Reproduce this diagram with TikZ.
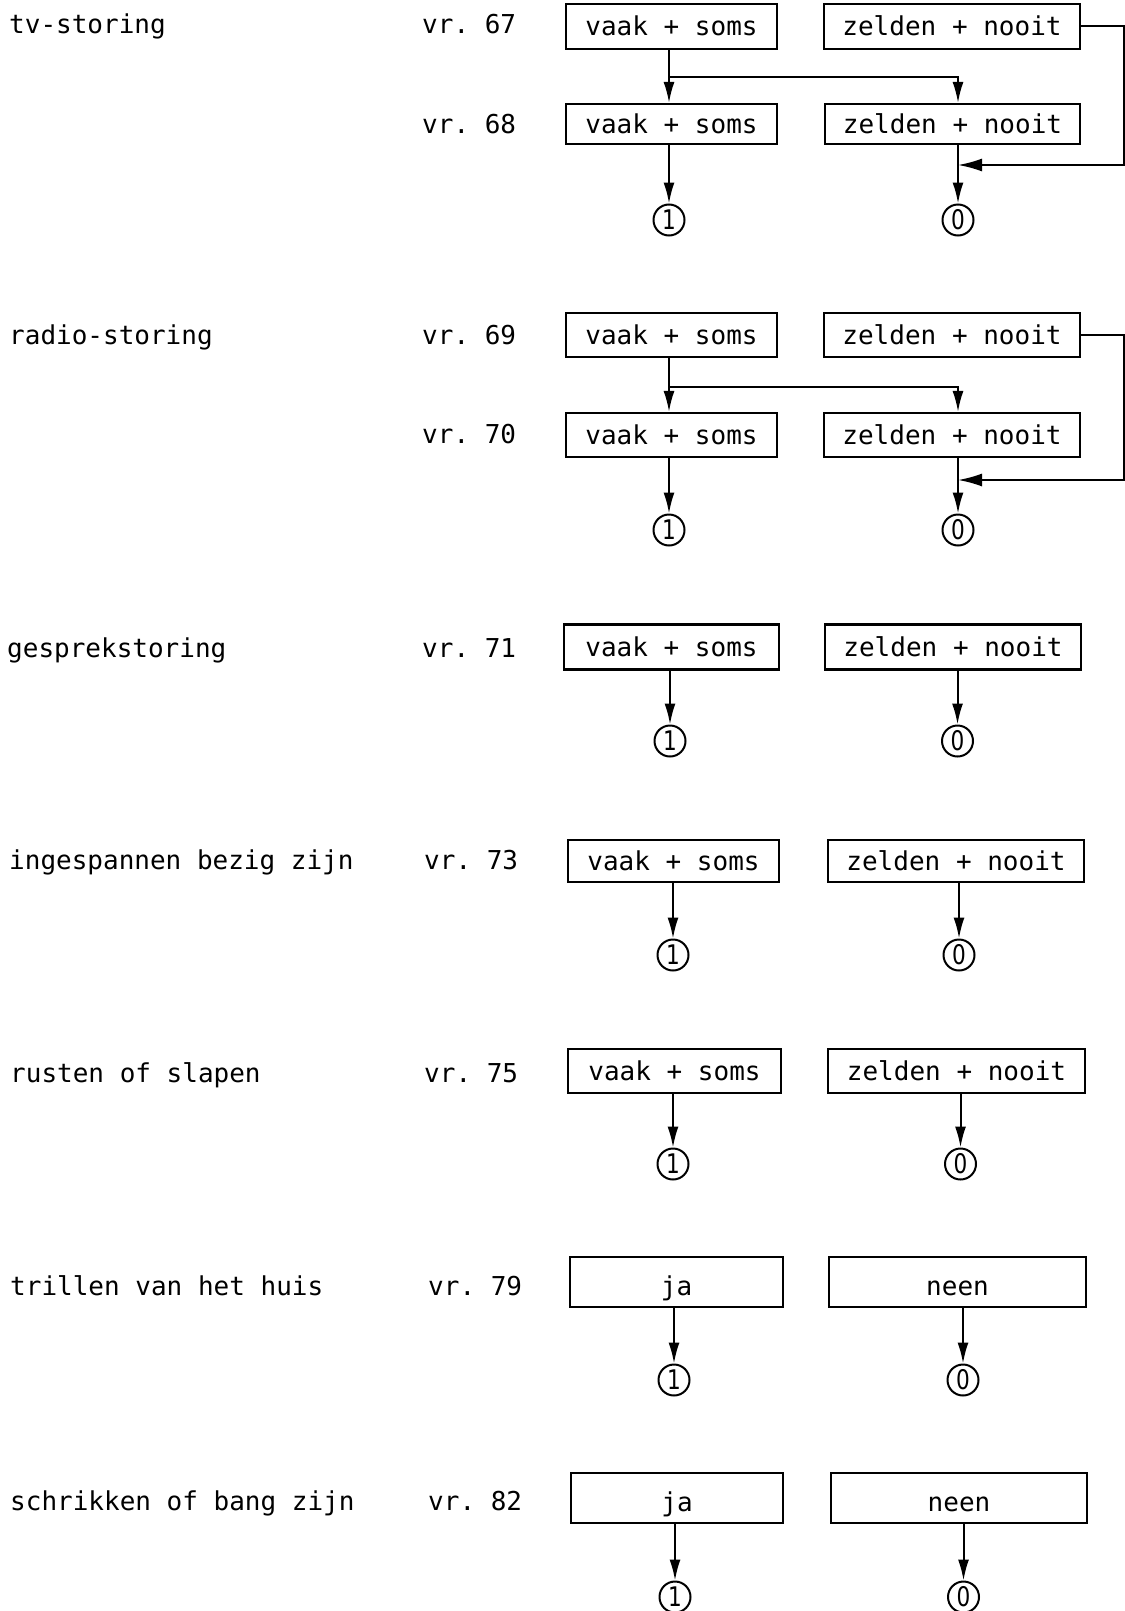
\documentclass[tikz,border=0pt]{standalone}
\usepackage{fontspec}
\setmonofont{DejaVu Sans Mono}
\newfontfamily\circfont[FakeStretch=0.8]{DejaVu Sans}
\usetikzlibrary{arrows.meta}
\begin{document}
\begin{tikzpicture}[x=1pt,y=-1pt,
  every node/.style={font=\fontsize{26}{30}\ttfamily},
  lbl/.style={anchor=base west, inner sep=0pt},
  ans/.style={draw, line width=2.2pt, inner sep=0pt, text height=19pt, text depth=0pt},
  jn/.style={ans, text height=26pt},
  res/.style={circle, draw, line width=2pt, minimum size=31pt, inner sep=0pt,
              font={\fontsize{27}{30}\circfont}},
  wire/.style={line width=2pt},
  conn/.style={wire, -{Latex[length=21pt,width=11pt]}},
  back/.style={wire, -{Latex[length=24pt,width=13pt]}}
]
\fill[white] (0,0) rectangle (1124,1611);
\useasboundingbox (0,0) rectangle (1124,1611);

% ---- tv-storing: vr. 67 / vr. 68
\node[lbl] (t67) at (9,34) {tv-storing};
\node[lbl] (v67) at (422,34) {vr. 67};
\node[lbl] (v68) at (422,133) {vr. 68};
\node[ans, minimum width=211pt, minimum height=45pt] (L67) at (671.5,26.5) {vaak + soms};
\node[ans, minimum width=256pt, minimum height=45pt] (R67) at (952,26.5) {zelden + nooit};
\node[ans, minimum width=211pt, minimum height=40pt] (L68) at (671.5,124) {vaak + soms};
\node[ans, minimum width=255pt, minimum height=40pt] (R68) at (952.5,124) {zelden + nooit};
\node[res] (a68) at (669,220) {1};
\node[res] (b68) at (958,220) {0};
\coordinate (j67) at (669,77);
\coordinate (e67) at (1123.5,165);
\coordinate (k67) at (958,165);
\draw[wire] (L67.south -| j67) -- (j67);
\draw[conn] (j67) -- (L68.north -| j67);
\draw[conn] (j67) -| (R68.north -| b68);
\draw[back] (R67.east) -| (e67) -- (k67);
\draw[conn] (L68.south -| a68) -- (a68);
\draw[conn] (R68.south -| b68) -- (b68);

% ---- radio-storing: vr. 69 / vr. 70
\node[lbl] (t69) at (9,344.5) {radio-storing};
\node[lbl] (v69) at (422,344.5) {vr. 69};
\node[lbl] (v70) at (422,443) {vr. 70};
\node[ans, minimum width=211pt, minimum height=44pt] (L69) at (671.5,335) {vaak + soms};
\node[ans, minimum width=256pt, minimum height=44pt] (R69) at (952,335) {zelden + nooit};
\node[ans, minimum width=211pt, minimum height=44pt] (L70) at (671.5,435) {vaak + soms};
\node[ans, minimum width=256pt, minimum height=44pt] (R70) at (952,435) {zelden + nooit};
\node[res] (a70) at (669,530) {1};
\node[res] (b70) at (958,530) {0};
\coordinate (j69) at (669,387);
\coordinate (e69) at (1123.5,480);
\coordinate (k69) at (958,480);
\draw[wire] (L69.south -| j69) -- (j69);
\draw[conn] (j69) -- (L70.north -| j69);
\draw[conn] (j69) -| (R70.north -| b70);
\draw[back] (R69.east) -| (e69) -- (k69);
\draw[conn] (L70.south -| a70) -- (a70);
\draw[conn] (R70.south -| b70) -- (b70);

% ---- gesprekstoring: vr. 71
\node[lbl] (t71) at (7,657) {gesprekstoring};
\node[lbl] (v71) at (422,657) {vr. 71};
\node[ans, minimum width=215pt, minimum height=45pt] (L71) at (671.5,647) {vaak + soms};
\node[ans, minimum width=256pt, minimum height=45pt] (R71) at (953,647) {zelden + nooit};
\node[res] (a71) at (670,741) {1};
\node[res] (b71) at (957.5,741) {0};
\draw[conn] (L71.south -| a71) -- (a71);
\draw[conn] (R71.south -| b71) -- (b71);

% ---- ingespannen bezig zijn: vr. 73
\node[lbl] (t73) at (9,869.5) {ingespannen bezig zijn};
\node[lbl] (v73) at (424,869.5) {vr. 73};
\node[ans, minimum width=211pt, minimum height=42pt] (L73) at (673.5,861) {vaak + soms};
\node[ans, minimum width=256pt, minimum height=42pt] (R73) at (956,861) {zelden + nooit};
\node[res] (a73) at (673,955) {1};
\node[res] (b73) at (959,955) {0};
\draw[conn] (L73.south -| a73) -- (a73);
\draw[conn] (R73.south -| b73) -- (b73);

% ---- rusten of slapen: vr. 75
\node[lbl] (t75) at (10,1082) {rusten of slapen};
\node[lbl] (v75) at (424,1082) {vr. 75};
\node[ans, minimum width=213pt, minimum height=44pt] (L75) at (674.5,1071) {vaak + soms};
\node[ans, minimum width=257pt, minimum height=44pt] (R75) at (956.5,1071) {zelden + nooit};
\node[res] (a75) at (673,1164) {1};
\node[res] (b75) at (960.5,1164) {0};
\draw[conn] (L75.south -| a75) -- (a75);
\draw[conn] (R75.south -| b75) -- (b75);

% ---- trillen van het huis: vr. 79
\node[lbl] (t79) at (10,1295) {trillen van het huis};
\node[lbl] (v79) at (428,1295) {vr. 79};
\node[jn, minimum width=213pt, minimum height=50pt] (L79) at (676.5,1282) {ja};
\node[jn, minimum width=257pt, minimum height=50pt] (R79) at (957.5,1282) {neen};
\node[res] (a79) at (674,1380) {1};
\node[res] (b79) at (963,1380) {0};
\draw[conn] (L79.south -| a79) -- (a79);
\draw[conn] (R79.south -| b79) -- (b79);

% ---- schrikken of bang zijn: vr. 82
\node[lbl] (t82) at (10,1510) {schrikken of bang zijn};
\node[lbl] (v82) at (428,1510) {vr. 82};
\node[jn, minimum width=212pt, minimum height=50pt] (L82) at (677,1498) {ja};
\node[jn, minimum width=256pt, minimum height=50pt] (R82) at (959,1498) {neen};
\node[res] (a82) at (675,1597) {1};
\node[res] (b82) at (963.5,1597) {0};
\draw[conn] (L82.south -| a82) -- (a82);
\draw[conn] (R82.south -| b82) -- (b82);
\end{tikzpicture}
\end{document}
